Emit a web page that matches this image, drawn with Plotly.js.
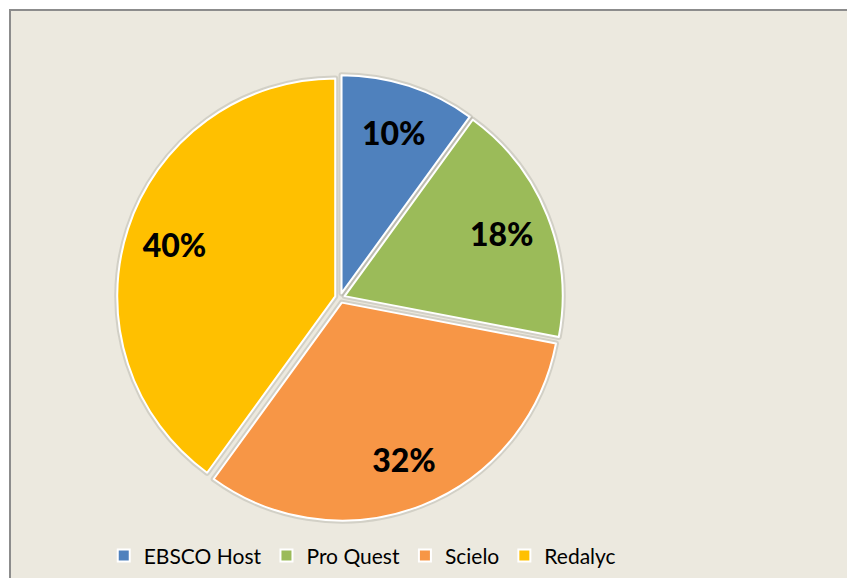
<!DOCTYPE html>
<html>
<head>
<meta charset="utf-8">
<script src="https://cdn.plot.ly/plotly-3.0.1.min.js"></script>
<style>html,body{margin:0;padding:0;background:#fff;}#chart{width:847px;height:578px;}</style>
</head>
<body>
<div id="chart"></div>
<script>
const categories = ["EBSCO Host", "Pro Quest", "Scielo", "Redalyc"];
const values = [10, 18, 32, 40];
const colors = ["#4F81BD", "#9BBB59", "#F79646", "#FFC000"];

const pieDomain = { x: [0.1278, 0.6607], y: [0.1004, 0.8856] };
const pulls = categories.map(() => 0.023);

// soft grey shadow under the slices
const shadowTrace = {
  type: "pie",
  labels: categories,
  values: values,
  sort: false,
  direction: "clockwise",
  rotation: 0,
  pull: pulls,
  showlegend: false,
  marker: { colors: categories.map(() => "rgba(110,110,100,0.35)"), line: { color: "rgba(110,110,100,0.20)", width: 6 } },
  textinfo: "none",
  hoverinfo: "skip",
  domain: pieDomain
};

const trace = {
  type: "pie",
  labels: categories,
  values: values,
  sort: false,
  direction: "clockwise",
  rotation: 0,
  pull: pulls,
  marker: { colors: colors, line: { color: "#FFFFFF", width: 2 } },
  textinfo: "none",
  hoverinfo: "label+percent",
  domain: pieDomain
};

// transparent ring on top, only to place the percentage labels further out
const labelTrace = {
  type: "pie",
  labels: categories,
  values: values,
  sort: false,
  direction: "clockwise",
  rotation: 0,
  pull: pulls,
  hole: 0.55,
  showlegend: false,
  marker: { colors: categories.map(() => "rgba(0,0,0,0)"), line: { width: 0 } },
  textinfo: "percent",
  textposition: "inside",
  insidetextorientation: "horizontal",
  textfont: { family: "Lato", size: 32, color: "#000000", weight: 900 },
  hoverinfo: "skip",
  domain: pieDomain
};

const layout = {
  width: 847,
  height: 578,
  margin: { l: 10, r: 0, t: 10, b: 0 },
  paper_bgcolor: "#FFFFFF",
  showlegend: true,
  legend: {
    orientation: "h",
    x: 0.112,
    xanchor: "left",
    y: 0.039,
    yanchor: "middle",
    font: { family: "Lato", size: 21, color: "#000000" },
    bgcolor: "rgba(0,0,0,0)",
    traceorder: "normal"
  },
  shapes: [{
    type: "rect",
    xref: "paper", yref: "paper",
    x0: 0, x1: 1.02, y0: -0.02, y1: 1,
    fillcolor: "#ECE9DF",
    line: { color: "#8C8C8C", width: 2 },
    layer: "below"
  }]
};

Plotly.newPlot("chart", [shadowTrace, trace, labelTrace], layout, { displayModeBar: false, staticPlot: true });
</script>
</body>
</html>
